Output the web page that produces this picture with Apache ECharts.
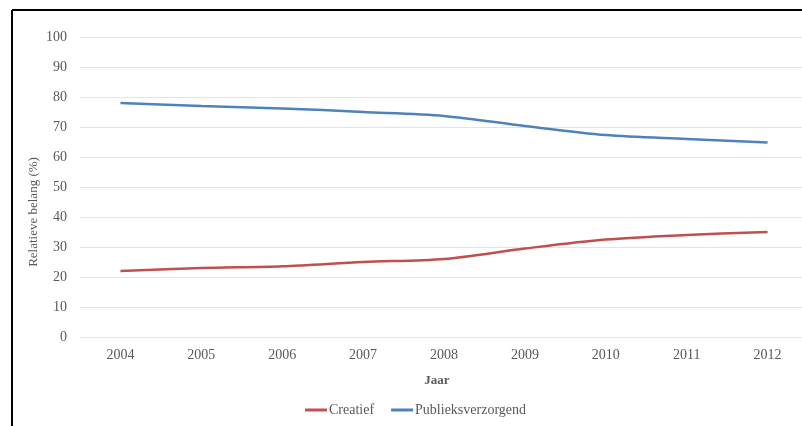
<!DOCTYPE html>
<html><head><meta charset="utf-8">
<script src="https://cdn.jsdelivr.net/npm/echarts@6/dist/echarts.min.js"></script>
<style>html,body{margin:0;padding:0;background:#fff}#c{width:802px;height:426px}</style>
</head><body><div id="c"></div>
<script>
const years = ['2004','2005','2006','2007','2008','2009','2010','2011','2012'];
const creatief = [22, 23, 23.6, 25, 26, 29.5, 32.5, 34, 35];
const publieks = [78, 77, 76.2, 75, 73.7, 70.3, 67.3, 66, 64.8];
const yTicks = {min: 0, max: 100, interval: 10};
const FONT = '"Liberation Serif", "DejaVu Serif", serif';
const chart = echarts.init(document.getElementById('c'));
chart.setOption({
  animation: false,
  textStyle: {fontFamily: FONT},
  grid: {left: 80, width: 728, top: 37, height: 300, outerBoundsMode: 'none', containLabel: false},
  xAxis: {
    type: 'category', data: years, boundaryGap: true,
    axisLine: {show: false}, axisTick: {show: false},
    axisLabel: {color: '#595959', fontSize: 14, fontFamily: FONT, margin: 11}
  },
  yAxis: {
    type: 'value', min: yTicks.min, max: yTicks.max, interval: yTicks.interval,
    axisLine: {show: false}, axisTick: {show: false},
    axisLabel: {color: '#595959', fontSize: 14, fontFamily: FONT, margin: 13},
    splitLine: {lineStyle: {color: '#e3e3e3', width: 1}}
  },
  legend: {
    bottom: 4, left: 300, icon: 'rect', itemWidth: 22, itemHeight: 3, itemGap: 17,
    textStyle: {color: '#595959', fontSize: 14, fontFamily: FONT, padding: [0,0,0,-3]},
    data: ['Creatief', 'Publieksverzorgend']
  },
  graphic: [
    {type: 'line', shape: {x1: 12, y1: 10, x2: 802, y2: 10}, style: {stroke: '#000', lineWidth: 2}},
    {type: 'line', shape: {x1: 12, y1: 10, x2: 12, y2: 426}, style: {stroke: '#000', lineWidth: 2}},
    {type: 'text', x: 34, y: 212, rotation: Math.PI / 2,
     style: {text: 'Relatieve belang (%)', fill: '#595959', font: '13px ' + FONT, textAlign: 'center', textVerticalAlign: 'middle'}},
    {type: 'text', x: 437, y: 381,
     style: {text: 'Jaar', fill: '#595959', font: 'bold 13px ' + FONT, textAlign: 'center', textVerticalAlign: 'middle'}}
  ],
  series: [
    {name: 'Creatief', type: 'line', data: creatief, smooth: 0.3, symbol: 'none',
     lineStyle: {color: '#c0504d', width: 2.5}, itemStyle: {color: '#c0504d'}},
    {name: 'Publieksverzorgend', type: 'line', data: publieks, smooth: 0.3, symbol: 'none',
     lineStyle: {color: '#4f81bd', width: 2.5}, itemStyle: {color: '#4f81bd'}}
  ]
});
</script></body></html>
